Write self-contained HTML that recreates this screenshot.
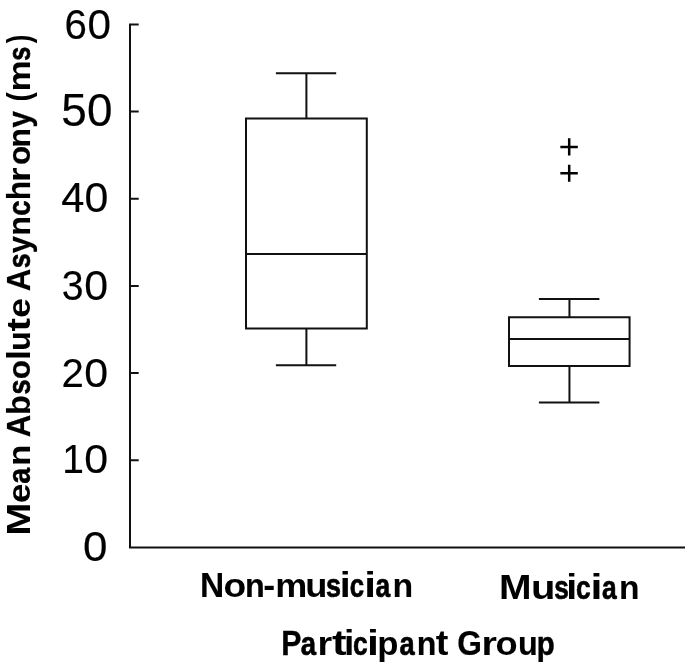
<!DOCTYPE html>
<html>
<head>
<meta charset="utf-8">
<style>
html,body{margin:0;padding:0;background:#fff;}
body{width:685px;height:662px;overflow:hidden;}
svg{display:block;will-change:transform;}
text{font-family:"Liberation Sans",sans-serif;fill:#000;font-size:100px;white-space:pre;}
.t{font-weight:normal;stroke:#000;stroke-width:0.4px;}
.b{font-weight:bold;stroke:#000;stroke-width:0;stroke-linejoin:round;}
</style>
</head>
<body>
<svg width="685" height="662" viewBox="0 0 685 662">
<rect x="0" y="0" width="685" height="662" fill="#fff"/>
<g stroke="#111" stroke-width="2.0" fill="none" stroke-linecap="butt" stroke-linejoin="miter">
  <path d="M138.7 24.4 H130 V547.4 H685"/>
  <path d="M130 111.57 H138.7 M130 198.8 H138.7 M130 285.95 H138.7 M130 373.1 H138.7 M130 460.27 H138.7"/>
  <path d="M246 118.45 H366.8 V328.45 H246 Z"/>
  <path d="M246 254 H366.8"/>
  <path d="M306.4 118.45 V73.25 M275.9 73.25 H336.2"/>
  <path d="M306.4 328.45 V365.36 M275.9 365.36 H336.2"/>
  <path d="M509 317.23 H629.57 V366.1 H509 Z"/>
  <path d="M509 338.96 H629.57"/>
  <path d="M569.45 317.23 V298.95 M538.9 298.95 H599.4"/>
  <path d="M569.45 366.1 V402.4 M538.9 402.4 H599.4"/>
</g>
<g stroke="#000" stroke-width="2.5" fill="none">
  <path d="M560.35 147.1 H577.8 M569.2 138.15 V155.55"/>
  <path d="M560.35 173.37 H577.8 M569.2 164.7 V181.8"/>
</g>
<text class="t" transform="matrix(0.42937,0,0,0.42937,0,38.981)"><tspan x="150.11" textLength="52.21" lengthAdjust="spacingAndGlyphs">6</tspan><tspan x="203.90" textLength="54.73" lengthAdjust="spacingAndGlyphs">0</tspan></text>
<text class="t" transform="matrix(0.46186,0,0,0.46186,0,126.149)"><tspan x="132.64" textLength="55.37" lengthAdjust="spacingAndGlyphs">5</tspan><tspan x="188.18" textLength="55.17" lengthAdjust="spacingAndGlyphs">0</tspan></text>
<text class="t" transform="matrix(0.41949,0,0,0.41949,0,212.290)"><tspan x="146.01" textLength="54.99" lengthAdjust="spacingAndGlyphs">4</tspan><tspan x="201.26" textLength="56.86" lengthAdjust="spacingAndGlyphs">0</tspan></text>
<text class="t" transform="matrix(0.41666,0,0,0.41666,0,299.693)"><tspan x="148.34" textLength="52.36" lengthAdjust="spacingAndGlyphs">3</tspan><tspan x="202.14" textLength="57.24" lengthAdjust="spacingAndGlyphs">0</tspan></text>
<text class="t" transform="matrix(0.41242,0,0,0.41242,0,386.697)"><tspan x="149.31" textLength="54.17" lengthAdjust="spacingAndGlyphs">2</tspan><tspan x="204.22" textLength="57.83" lengthAdjust="spacingAndGlyphs">0</tspan></text>
<text class="t" transform="matrix(0.41242,0,0,0.41242,0,473.097)"><tspan x="150.65" textLength="52.54" lengthAdjust="spacingAndGlyphs">1</tspan><tspan x="204.22" textLength="57.83" lengthAdjust="spacingAndGlyphs">0</tspan></text>
<text class="t" transform="matrix(0.42090,0,0,0.42090,0,561.189)"><tspan x="197.40" textLength="58.05" lengthAdjust="spacingAndGlyphs">0</tspan></text>
<text class="b" transform="matrix(0.34158,0,0,0.34158,0,597.000)"><tspan x="585.21" textLength="70.93" lengthAdjust="spacingAndGlyphs" style="stroke-width:0.23px">N</tspan><tspan x="654.17" textLength="66.47" lengthAdjust="spacingAndGlyphs" style="font-size:96.4px">o</tspan><tspan x="717.11" textLength="57.90" lengthAdjust="spacingAndGlyphs" style="stroke-width:0.51px;font-size:96.4px">n</tspan><tspan x="770.55" textLength="34.94" lengthAdjust="spacingAndGlyphs">-</tspan><tspan x="805.76" textLength="93.70" lengthAdjust="spacingAndGlyphs" style="font-size:96.4px">m</tspan><tspan x="893.37" textLength="64.81" lengthAdjust="spacingAndGlyphs" style="font-size:96.4px">u</tspan><tspan x="954.17" textLength="43.96" lengthAdjust="spacingAndGlyphs" style="stroke-width:2.00px;font-size:96.4px">s</tspan><tspan x="994.37" textLength="32.01" lengthAdjust="spacingAndGlyphs">i</tspan><tspan x="1024.22" textLength="42.00" lengthAdjust="spacingAndGlyphs" style="stroke-width:2.00px;font-size:96.4px">c</tspan><tspan x="1066.38" textLength="34.38" lengthAdjust="spacingAndGlyphs">i</tspan><tspan x="1099.29" textLength="42.97" lengthAdjust="spacingAndGlyphs" style="stroke-width:2.00px;font-size:96.4px">a</tspan><tspan x="1148.78" textLength="60.54" lengthAdjust="spacingAndGlyphs" style="stroke-width:0.16px;font-size:96.4px">n</tspan></text>
<text class="b" transform="matrix(0.34158,0,0,0.34158,0,598.500)"><tspan x="1461.14" textLength="95.22" lengthAdjust="spacingAndGlyphs">M</tspan><tspan x="1554.92" textLength="71.47" lengthAdjust="spacingAndGlyphs" style="font-size:96.4px">u</tspan><tspan x="1622.89" textLength="42.66" lengthAdjust="spacingAndGlyphs" style="stroke-width:2.00px;font-size:96.4px">s</tspan><tspan x="1657.76" textLength="32.01" lengthAdjust="spacingAndGlyphs">i</tspan><tspan x="1686.11" textLength="42.97" lengthAdjust="spacingAndGlyphs" style="stroke-width:2.00px;font-size:96.4px">c</tspan><tspan x="1729.04" textLength="34.98" lengthAdjust="spacingAndGlyphs">i</tspan><tspan x="1762.10" textLength="42.97" lengthAdjust="spacingAndGlyphs" style="stroke-width:2.00px;font-size:96.4px">a</tspan><tspan x="1811.96" textLength="60.10" lengthAdjust="spacingAndGlyphs" style="stroke-width:0.21px;font-size:96.4px">n</tspan></text>
<text class="b" transform="matrix(0.34158,0,0,0.34158,0,655.200)"><tspan x="823.32" textLength="59.29" lengthAdjust="spacingAndGlyphs" style="stroke-width:1.04px">P</tspan><tspan x="880.22" textLength="44.79" lengthAdjust="spacingAndGlyphs" style="stroke-width:1.93px;font-size:96.4px">a</tspan><tspan x="929.28" textLength="42.89" lengthAdjust="spacingAndGlyphs" style="font-size:96.4px">r</tspan><tspan x="971.87" textLength="42.65" lengthAdjust="spacingAndGlyphs">t</tspan><tspan x="1006.82" textLength="30.23" lengthAdjust="spacingAndGlyphs">i</tspan><tspan x="1033.54" textLength="42.97" lengthAdjust="spacingAndGlyphs" style="stroke-width:2.00px;font-size:96.4px">c</tspan><tspan x="1074.72" textLength="34.98" lengthAdjust="spacingAndGlyphs">i</tspan><tspan x="1104.33" textLength="62.11" lengthAdjust="spacingAndGlyphs" style="font-size:96.4px">p</tspan><tspan x="1169.21" textLength="44.44" lengthAdjust="spacingAndGlyphs" style="stroke-width:2.00px;font-size:96.4px">a</tspan><tspan x="1220.15" textLength="57.46" lengthAdjust="spacingAndGlyphs" style="stroke-width:0.57px;font-size:96.4px">n</tspan><tspan x="1275.96" textLength="36.96" lengthAdjust="spacingAndGlyphs">t</tspan> <tspan x="1338.82" textLength="72.16" lengthAdjust="spacingAndGlyphs" style="stroke-width:0.68px">G</tspan><tspan x="1409.91" textLength="45.11" lengthAdjust="spacingAndGlyphs" style="font-size:96.4px">r</tspan><tspan x="1450.88" textLength="64.79" lengthAdjust="spacingAndGlyphs" style="font-size:96.4px">o</tspan><tspan x="1516.13" textLength="57.90" lengthAdjust="spacingAndGlyphs" style="stroke-width:0.51px;font-size:96.4px">u</tspan><tspan x="1571.42" textLength="52.56" lengthAdjust="spacingAndGlyphs" style="stroke-width:1.33px;font-size:96.4px">p</tspan></text>
<text class="b" transform="matrix(0,-0.33285,0.33285,0,30.000,0)"><tspan x="-1609.59" textLength="99.50" lengthAdjust="spacingAndGlyphs">M</tspan><tspan x="-1511.37" textLength="58.47" lengthAdjust="spacingAndGlyphs" style="font-size:96.4px">e</tspan><tspan x="-1453.04" textLength="48.00" lengthAdjust="spacingAndGlyphs" style="stroke-width:1.33px;font-size:96.4px">a</tspan><tspan x="-1400.03" textLength="64.22" lengthAdjust="spacingAndGlyphs" style="font-size:96.4px">n</tspan> <tspan x="-1313.42" textLength="67.61" lengthAdjust="spacingAndGlyphs" style="stroke-width:0.62px">A</tspan><tspan x="-1247.03" textLength="59.35" lengthAdjust="spacingAndGlyphs" style="stroke-width:0.32px">b</tspan><tspan x="-1185.49" textLength="45.21" lengthAdjust="spacingAndGlyphs" style="stroke-width:1.89px;font-size:96.4px">s</tspan><tspan x="-1139.05" textLength="57.61" lengthAdjust="spacingAndGlyphs" style="stroke-width:0.56px;font-size:96.4px">o</tspan><tspan x="-1081.53" textLength="29.81" lengthAdjust="spacingAndGlyphs">l</tspan><tspan x="-1054.36" textLength="59.26" lengthAdjust="spacingAndGlyphs" style="stroke-width:0.33px;font-size:96.4px">u</tspan><tspan x="-995.63" textLength="40.85" lengthAdjust="spacingAndGlyphs">t</tspan><tspan x="-955.00" textLength="58.82" lengthAdjust="spacingAndGlyphs" style="font-size:96.4px">e</tspan> <tspan x="-874.82" textLength="67.97" lengthAdjust="spacingAndGlyphs" style="stroke-width:0.58px">A</tspan><tspan x="-805.66" textLength="44.45" lengthAdjust="spacingAndGlyphs" style="stroke-width:2.00px;font-size:96.4px">s</tspan><tspan x="-760.77" textLength="51.30" lengthAdjust="spacingAndGlyphs" style="stroke-width:0.75px;font-size:96.4px">y</tspan><tspan x="-708.64" textLength="59.26" lengthAdjust="spacingAndGlyphs" style="stroke-width:0.33px;font-size:96.4px">n</tspan><tspan x="-648.44" textLength="45.98" lengthAdjust="spacingAndGlyphs" style="stroke-width:1.73px;font-size:96.4px">c</tspan><tspan x="-601.54" textLength="58.00" lengthAdjust="spacingAndGlyphs" style="stroke-width:0.51px">h</tspan><tspan x="-546.67" textLength="43.64" lengthAdjust="spacingAndGlyphs" style="font-size:96.4px">r</tspan><tspan x="-495.53" textLength="57.61" lengthAdjust="spacingAndGlyphs" style="stroke-width:0.56px;font-size:96.4px">o</tspan><tspan x="-443.66" textLength="59.26" lengthAdjust="spacingAndGlyphs" style="stroke-width:0.33px;font-size:96.4px">n</tspan><tspan x="-383.24" textLength="49.14" lengthAdjust="spacingAndGlyphs" style="stroke-width:1.12px;font-size:96.4px">y</tspan> <tspan x="-304.92" textLength="28.00" lengthAdjust="spacingAndGlyphs">(</tspan><tspan x="-274.91" textLength="93.34" lengthAdjust="spacingAndGlyphs" style="font-size:96.4px">m</tspan><tspan x="-182.78" textLength="42.44" lengthAdjust="spacingAndGlyphs" style="stroke-width:2.00px;font-size:96.4px">s</tspan><tspan x="-130.16" textLength="25.88" lengthAdjust="spacingAndGlyphs">)</tspan></text>
</svg>
</body>
</html>
